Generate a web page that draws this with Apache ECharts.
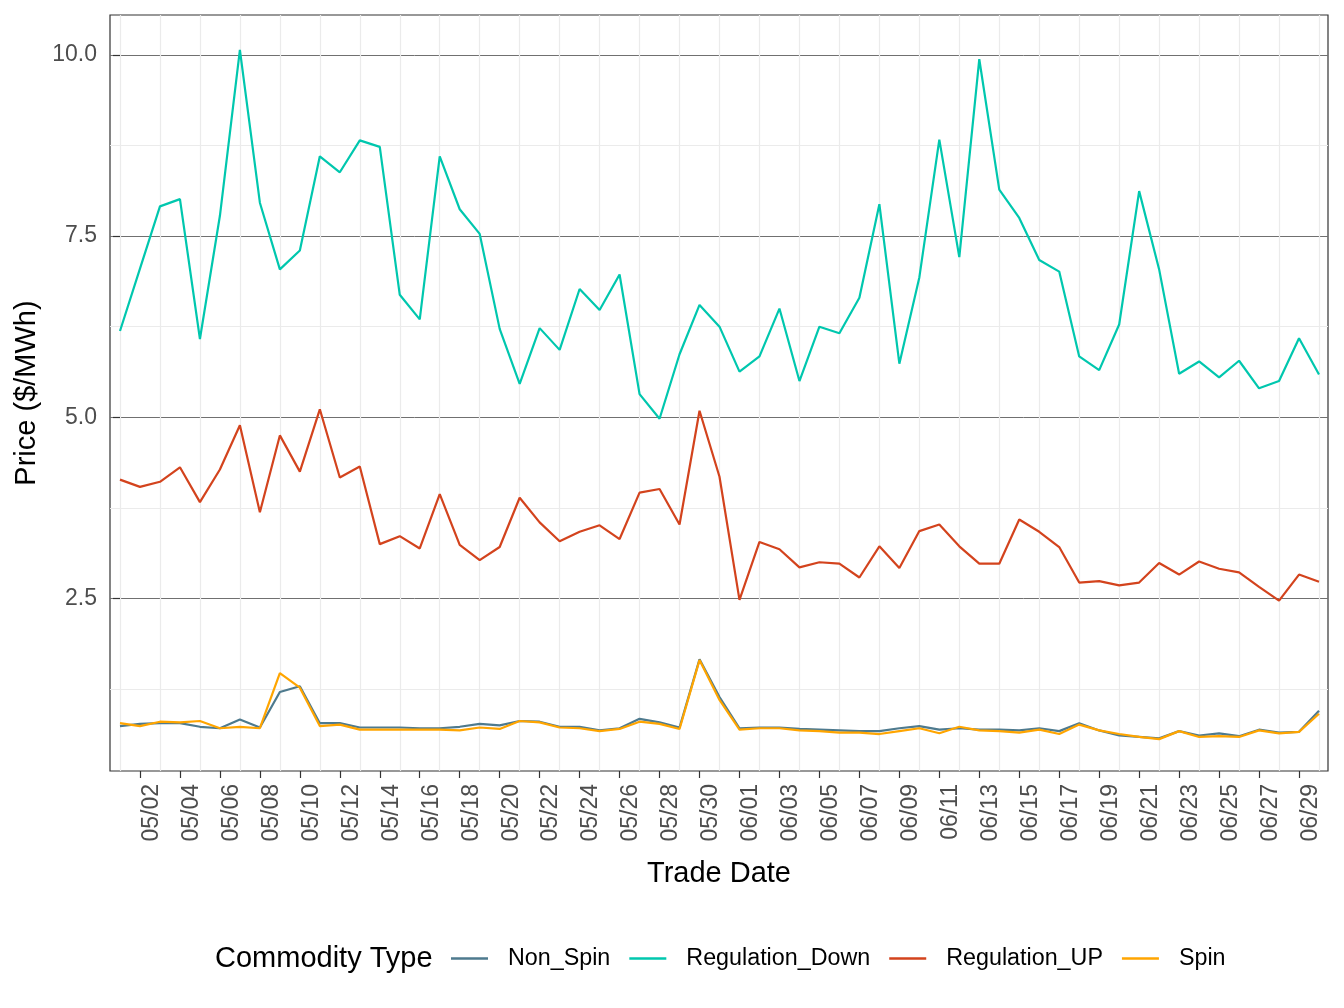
<!DOCTYPE html>
<html><head><meta charset="utf-8">
<script src="https://cdn.jsdelivr.net/npm/echarts@6/dist/echarts.min.js"></script>
<style>html,body{margin:0;padding:0;background:#fff}#c{width:1344px;height:1008px}</style>
</head><body><div id="c"></div>
<script>
const dates = ['05/01','05/02','05/03','05/04','05/05','05/06','05/07','05/08','05/09','05/10',
'05/11','05/12','05/13','05/14','05/15','05/16','05/17','05/18','05/19','05/20',
'05/21','05/22','05/23','05/24','05/25','05/26','05/27','05/28','05/29','05/30','05/31',
'06/01','06/02','06/03','06/04','06/05','06/06','06/07','06/08','06/09','06/10',
'06/11','06/12','06/13','06/14','06/15','06/16','06/17','06/18','06/19','06/20',
'06/21','06/22','06/23','06/24','06/25','06/26','06/27','06/28','06/29','06/30'];
const yTicks = [2.5, 5, 7.5, 10];
const yMinor = [1.25, 3.75, 6.25, 8.75];
const seriesNames = ['Non_Spin','Regulation_Down','Regulation_UP','Spin'];
const nonSpin = [0.74,0.77,0.78,0.78,0.73,0.71,0.83,0.72,1.21,1.29,
0.78,0.78,0.72,0.72,0.72,0.71,0.71,0.73,0.77,0.75,
0.81,0.80,0.73,0.73,0.68,0.71,0.84,0.79,0.72,1.66,
1.14,0.71,0.72,0.72,0.70,0.69,0.68,0.67,0.67,0.71,
0.74,0.69,0.71,0.69,0.69,0.68,0.71,0.67,0.78,0.68,
0.61,0.59,0.57,0.67,0.61,0.64,0.60,0.69,0.65,0.66,0.95];
const regDown = [6.19,7.05,7.91,8.01,6.08,7.78,10.07,7.96,7.04,7.30,
8.60,8.38,8.82,8.73,6.69,6.35,8.60,7.87,7.53,6.22,
5.46,6.23,5.93,6.77,6.48,6.97,5.32,4.98,5.87,6.55,
6.25,5.63,5.84,6.50,5.50,6.25,6.16,6.65,7.94,5.74,
6.93,8.83,7.21,9.94,8.14,7.75,7.17,7.01,5.84,5.65,
6.28,8.12,7.04,5.60,5.77,5.55,5.78,5.40,5.50,6.09,5.59];
const regUp = [4.14,4.04,4.11,4.31,3.83,4.28,4.89,3.69,4.75,4.25,
5.11,4.17,4.32,3.25,3.36,3.19,3.94,3.24,3.03,3.21,
3.89,3.55,3.29,3.42,3.51,3.32,3.96,4.01,3.52,5.09,
4.18,2.48,3.28,3.18,2.93,3.00,2.98,2.79,3.22,2.92,
3.43,3.52,3.22,2.98,2.98,3.59,3.42,3.21,2.72,2.74,
2.68,2.72,2.99,2.83,3.01,2.91,2.86,2.66,2.47,2.83,2.73];
const spin = [0.78,0.74,0.80,0.79,0.81,0.71,0.73,0.71,1.47,1.27,
0.74,0.76,0.69,0.69,0.69,0.69,0.69,0.68,0.72,0.70,
0.81,0.79,0.72,0.71,0.67,0.70,0.80,0.77,0.70,1.65,
1.10,0.69,0.71,0.71,0.68,0.67,0.65,0.65,0.63,0.67,
0.71,0.64,0.73,0.68,0.67,0.65,0.69,0.63,0.76,0.68,
0.63,0.59,0.56,0.67,0.59,0.60,0.59,0.68,0.64,0.66,0.91];
const colors = ['#4E7A8E','#00C7AE','#D3431D','#FFA500'];

const FONT = '"Liberation Sans", Arial, Helvetica, sans-serif';
const idx = dates.map((d, i) => i);
const labelIdx = idx.filter(i => i % 2 === 1);
const gridIdx = idx.filter(i => i % 2 === 0);
const toPts = arr => arr.map((v, i) => [i, v]);
const XMIN = -0.5, XMAX = 60.45, YMIN = 0.12, YMAX = 10.55;

const chart = echarts.init(document.getElementById('c'), null, {renderer: 'canvas'});
const dataSets = [nonSpin, regDown, regUp, spin];
chart.setOption({
  animation: false,
  backgroundColor: '#fff',
  grid: {left: 110, right: 16, top: 15, bottom: 237, show: true, borderColor: '#333', borderWidth: 1.2, backgroundColor: 'transparent'},
  graphic: [{type: 'text', left: 215, top: 944, style: {text: 'Commodity Type', font: '29px ' + FONT, fill: '#000'}}],
  legend: {
    left: 446, top: 942, icon: 'rect', itemWidth: 37, itemHeight: 2.7, itemGap: 19,
    textStyle: {fontSize: 23.3, color: '#000', fontFamily: FONT, padding: [0, 0, 0, 15]},
    data: seriesNames
  },
  xAxis: [{
    type: 'value', min: XMIN, max: XMAX,
    axisLine: {show: false},
    axisTick: {show: true, customValues: labelIdx, length: 7, lineStyle: {color: '#333', width: 1.2}},
    axisLabel: {customValues: labelIdx, rotate: 90, margin: 13, verticalAlign: 'top', formatter: v => dates[v] || '', fontSize: 23, color: '#4D4D4D', fontFamily: FONT},
    splitLine: {show: false},
    name: 'Trade Date', nameLocation: 'middle', nameGap: 88,
    nameTextStyle: {fontSize: 29, color: '#000', fontFamily: FONT}
  }, {
    type: 'value', min: XMIN, max: XMAX, position: 'bottom',
    axisLine: {show: false}, axisTick: {show: false, customValues: gridIdx},
    axisLabel: {show: false, customValues: gridIdx},
    splitLine: {show: true, lineStyle: {color: '#EBEBEB', width: 1.2}}
  }],
  yAxis: [{
    type: 'value', min: YMIN, max: YMAX,
    axisLine: {show: false},
    axisTick: {show: true, customValues: yTicks, length: 7, lineStyle: {color: '#333', width: 1.2}},
    axisLabel: {customValues: yTicks, formatter: v => v.toFixed(1), margin: 13, fontSize: 23, color: '#4D4D4D', fontFamily: FONT},
    splitLine: {show: true, lineStyle: {color: '#707070', width: 1}},
    name: 'Price ($/MWh)', nameLocation: 'middle', nameGap: 68,
    nameTextStyle: {fontSize: 29, color: '#000', fontFamily: FONT}
  }, {
    type: 'value', min: YMIN, max: YMAX, position: 'left',
    axisLine: {show: false}, axisTick: {show: false, customValues: yMinor},
    axisLabel: {show: false, customValues: yMinor},
    splitLine: {show: true, lineStyle: {color: '#EBEBEB', width: 1.2}}
  }],
  series: seriesNames.map((n, k) => ({
    name: n, type: 'line', data: toPts(dataSets[k]), xAxisIndex: 0, yAxisIndex: 0,
    showSymbol: false, symbol: 'none', color: colors[k],
    lineStyle: {width: 2.2, color: colors[k]}, z: 3 + k
  }))
});
</script></body></html>
